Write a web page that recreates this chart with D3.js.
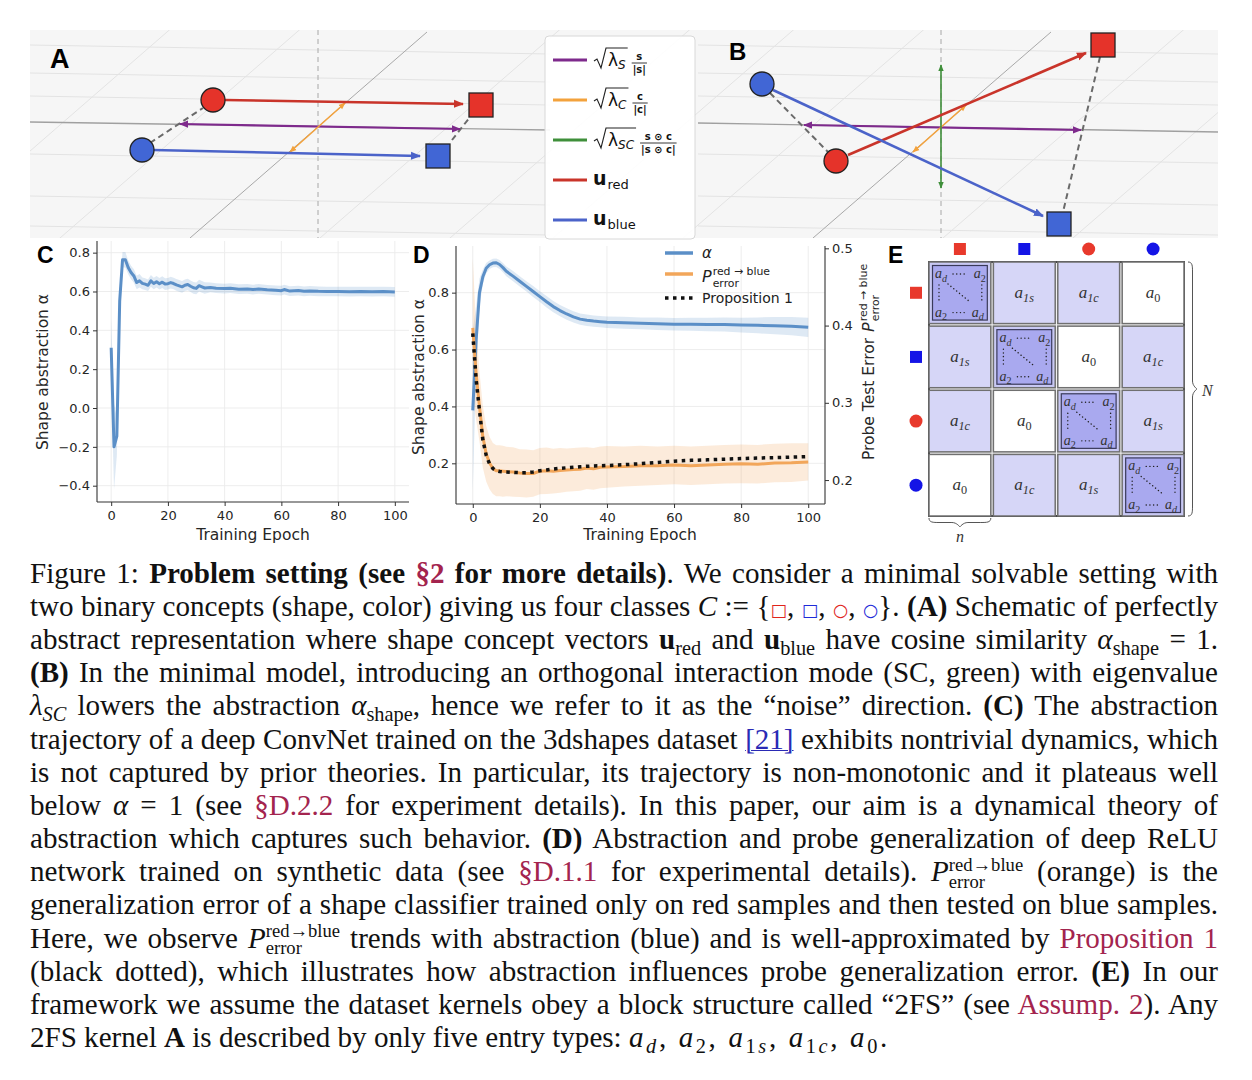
<!DOCTYPE html>
<html>
<head>
<meta charset="utf-8">
<script src="https://cdn.jsdelivr.net/npm/d3@7"></script>
<style>
  body { margin: 0; background: #fff; overflow: hidden; }
  #fig { position: absolute; left: 0; top: 0; }
  #caption { position: absolute; left: 30px; top: 557px; width: 1188px;
    font-family: "Liberation Serif", "Times New Roman", serif; font-size: 26.5px; color: #111; }
  #caption .line { height: 33.2px; line-height: 33.2px; white-space: nowrap;
    text-align: justify; text-align-last: justify; }
  #caption .line.last { text-align: left; text-align-last: left; }
  #caption sub { font-size: 0.7em; vertical-align: -0.28em; line-height: 0; }
  #caption .ref { color: #a3244e; }
  #caption .cite { color: #2a2ab5; text-decoration: underline; text-decoration-thickness: 1px; }
  #caption .st { display: inline-block; vertical-align: -0.36em; line-height: 0.92; font-size: 0.64em; text-align: left; }
  #caption .st span { display: block; }
  #caption .sym { font-family: "DejaVu Sans"; font-size: 0.6em; }
  #caption .m { letter-spacing: 0.09em; }
  #caption .r { color: #e0241b; }
  #caption .bl { color: #1f2bd8; }
  #measure { position: absolute; left: -5000px; top: 0; white-space: nowrap;
    font-family: "Liberation Serif", "Times New Roman", serif; font-size: 26.5px; }
</style>
</head>
<body>
<svg id="fig" width="1252" height="1080"></svg>
<div id="caption"></div>
<span id="measure"></span>
<script>
// ---------- data ----------

// panel C : ConvNet on 3dshapes
const cEpochs = [0,1,2,3,4,5,6,7,8,9,10,11,12,13,14,15,16,17,18,19,20,21,22,23,24,25,26,27,28,29,30,31,32,33,
  35,37,40,42,45,48,50,52,55,58,60,61,63,66,68,70,73,76,80,84,88,92,96,100]
const cAlpha = [0.31,-0.20,-0.145,0.55,0.763,0.763,0.724,0.698,0.68,0.646,0.655,0.642,0.638,0.632,0.655,0.641,0.65,0.64,0.648,0.638,
  0.64,0.646,0.641,0.634,0.629,0.624,0.632,0.636,0.627,0.619,0.616,0.63,0.624,0.618,
  0.621,0.617,0.615,0.617,0.612,0.613,0.61,0.613,0.609,0.606,0.604,0.61,0.602,0.605,0.601,0.603,0.601,0.6,0.6,0.599,0.6,0.599,0.6,0.598]
const cAlphaSd = [0.15,0.22,0.1,0.06,0.04,0.04,0.035,0.035,0.035,0.035,0.035,0.03,0.03,0.03,0.03,0.03,0.03,0.03,0.03,0.03,
  0.03,0.03,0.03,0.03,0.03,0.03,0.03,0.03,0.03,0.03,0.03,0.03,0.03,0.03,
  0.025,0.025,0.025,0.025,0.025,0.025,0.025,0.025,0.025,0.025,0.025,0.025,0.025,0.025,0.025,0.025,0.025,0.025,0.025,0.025,0.025,0.025,0.025,0.025]

// panel D : ReLU net on synthetic data
const dEpochs = [0,1,2,3,4,5,6,7,8,9,10,12,14,16,18,20,22,24,26,28,30,32,34,36,38,40,45,50,55,60,65,70,75,80,85,90,95,100]
const dAlpha = [0.386,0.633,0.80,0.856,0.886,0.898,0.904,0.905,0.899,0.888,0.875,0.858,0.84,0.822,0.804,0.786,0.768,0.751,0.737,0.725,
  0.715,0.707,0.703,0.700,0.698,0.696,0.694,0.692,0.691,0.689,0.689,0.688,0.688,0.686,0.685,0.684,0.682,0.678]
const dAlphaSd = [0.28,0.12,0.05,0.025,0.018,0.015,0.015,0.015,0.016,0.016,0.017,0.018,0.018,0.018,0.019,0.019,0.02,0.02,0.02,0.02,
  0.02,0.02,0.02,0.02,0.02,0.02,0.021,0.021,0.022,0.022,0.023,0.024,0.025,0.026,0.028,0.03,0.032,0.034]
const dPerr = [0.397,0.338,0.295,0.256,0.234,0.222,0.215,0.212,0.212,0.2115,0.211,0.2105,0.209,0.2085,0.2085,0.2115,0.212,0.2115,0.2125,0.213,
  0.2135,0.214,0.2155,0.2145,0.2165,0.217,0.2175,0.2185,0.2185,0.2195,0.2185,0.2195,0.2205,0.221,0.2205,0.222,0.2225,0.2235]
const dPerrSd = [0.09,0.06,0.045,0.04,0.036,0.034,0.033,0.033,0.033,0.033,0.032,0.032,0.031,0.031,0.03,0.03,0.03,0.029,0.029,0.028,
  0.028,0.028,0.027,0.027,0.027,0.027,0.026,0.026,0.025,0.025,0.025,0.025,0.025,0.025,0.025,0.025,0.025,0.024]
const dProp = [0.39,0.33,0.29,0.252,0.232,0.221,0.215,0.212,0.211,0.2105,0.2105,0.21,0.2095,0.2095,0.2105,0.212,0.213,0.2143,0.2152,0.2159,
  0.2165,0.2172,0.2178,0.2183,0.2186,0.2188,0.2198,0.2212,0.2228,0.2245,0.2255,0.2262,0.227,0.2278,0.2285,0.229,0.2296,0.2303]

const epochTicks = [0, 20, 40, 60, 80, 100]
const cTicks = [-0.4, -0.2, 0, 0.2, 0.4, 0.6, 0.8]
const dLeftTicks = [0.2, 0.4, 0.6, 0.8]
const dRightTicks = [0.2, 0.3, 0.4, 0.5]

// panels A / B : schematic, in pane units (520 x 208)
const aMarkers = [
  {shape: 'circle', cls: 'red', x: 183, y: 70}, {shape: 'square', cls: 'red', x: 451, y: 75},
  {shape: 'circle', cls: 'blue', x: 112, y: 120}, {shape: 'square', cls: 'blue', x: 408, y: 126}]
const aVectors = [
  {key: 'S', x1: 150, y1: 94, x2: 430, y2: 99, both: true},
  {key: 'C', x1: 260, y1: 122, x2: 315, y2: 73, both: true},
  {key: 'red', x1: 195, y1: 70, x2: 433, y2: 74},
  {key: 'blue', x1: 123, y1: 120, x2: 390, y2: 126}]
const aLinks = [[120, 113, 173, 78], [422, 110, 440, 87]]
const aGuides = {axis: [0, 92, 520, 100], diag: [160, 208, 397, 2], vert: 288}

const bMarkers = [
  {shape: 'circle', cls: 'blue', x: 64, y: 54}, {shape: 'circle', cls: 'red', x: 138, y: 131},
  {shape: 'square', cls: 'red', x: 405, y: 15}, {shape: 'square', cls: 'blue', x: 361, y: 194}]
const bVectors = [
  {key: 'S', x1: 106, y1: 95, x2: 383, y2: 100, both: true},
  {key: 'C', x1: 215, y1: 122, x2: 268, y2: 75, both: true},
  {key: 'SC', x1: 243, y1: 35, x2: 243, y2: 158, both: true},
  {key: 'red', x1: 150, y1: 125, x2: 388, y2: 23},
  {key: 'blue', x1: 75, y1: 60, x2: 345, y2: 186}]
const bLinks = [[72, 63, 130, 122], [402, 27, 365, 182]]
const bGuides = {axis: [0, 93, 520, 102], diag: [115, 208, 353, 2], vert: 243}

const paneFaintH = [15, 43, 66, 124, 166, 196]
const paneFaintD = [-260, -130, 130, 260]

const vecColor = {S: '#7e2a8c', C: '#f3a23c', SC: '#3f8f3a', red: '#c9342a', blue: '#4b63c9'}
const markColor = {red: '#e5332a', blue: '#4166d5'}
const vecLegend = [
  {key: 'S', num: 's', den: '|s|'}, {key: 'C', num: 'c', den: '|c|'},
  {key: 'SC', num: 's ⊙ c', den: '|s ⊙ c|'}, {key: 'red'}, {key: 'blue'}]

// panel E : 2FS kernel
const eClasses = [
  {shape: 'square', color: '#e8392c'}, {shape: 'square', color: '#1414e6'},
  {shape: 'circle', color: '#e8392c'}, {shape: 'circle', color: '#1414e6'}]
const eBlocks = [
  ['d', '1s', '1c', '0'],
  ['1s', 'd', '0', '1c'],
  ['1c', '0', 'd', '1s'],
  ['0', '1c', '1s', 'd']]

// ---------- drawing ----------
const svg = d3.select('#fig')
const defs = svg.append('defs')
const SANS = 'DejaVu Sans'
const TXT = '#262626'

Object.entries(vecColor).forEach(([k, c]) => {
  const s = (k === 'red' || k === 'blue') ? 10 : (k === 'S' ? 9 : 7)
  defs.append('marker').attr('id', 'ar-' + k)
    .attr('viewBox', '0 0 10 10').attr('refX', 9).attr('refY', 5)
    .attr('markerWidth', s).attr('markerHeight', s).attr('markerUnits', 'userSpaceOnUse')
    .attr('orient', 'auto-start-reverse')
    .append('path').attr('d', 'M0,1 L10,5 L0,9 Z').attr('fill', c)
})
defs.append('clipPath').attr('id', 'paneClip')
  .append('rect').attr('x', 30).attr('y', 30).attr('width', 1188).attr('height', 208)

svg.append('rect').attr('x', 30).attr('y', 30).attr('width', 1188).attr('height', 208).attr('fill', '#f6f6f6')

function drawPane(x0, markers, vectors, links, guides) {
  const sx = d3.scaleLinear().domain([0, 520]).range([x0, x0 + 520])
  const sy = d3.scaleLinear().domain([0, 208]).range([30, 238])
  const g = svg.append('g').attr('clip-path', 'url(#paneClip)')

  // faint pane grid
  g.selectAll(null).data(paneFaintH).join('line')
    .attr('x1', sx(0)).attr('y1', d => sy(d)).attr('x2', sx(520)).attr('y2', d => sy(d + 9))
    .attr('stroke', '#e3e3e3').attr('stroke-width', 1)
  const [dx1, dy1, dx2, dy2] = guides.diag
  g.selectAll(null).data(paneFaintD).join('line')
    .attr('x1', d => sx(dx1 + d - (dx2 - dx1))).attr('y1', sy(dy1 + (dy1 - dy2)))
    .attr('x2', d => sx(dx2 + d + (dx2 - dx1))).attr('y2', sy(dy2 - (dy1 - dy2)))
    .attr('stroke', '#e3e3e3').attr('stroke-width', 1)

  // main guides
  g.append('line').attr('x1', sx(guides.axis[0])).attr('y1', sy(guides.axis[1]))
    .attr('x2', sx(guides.axis[2])).attr('y2', sy(guides.axis[3]))
    .attr('stroke', '#a0a0a0').attr('stroke-width', 1.3)
  g.append('line').attr('x1', sx(dx1)).attr('y1', sy(dy1)).attr('x2', sx(dx2)).attr('y2', sy(dy2))
    .attr('stroke', '#a8a8a8').attr('stroke-width', 1)
  g.append('line').attr('x1', sx(guides.vert)).attr('y1', sy(0)).attr('x2', sx(guides.vert)).attr('y2', sy(208))
    .attr('stroke', '#b5b5b5').attr('stroke-width', 1.2).attr('stroke-dasharray', '5,4')

  g.selectAll(null).data(links).join('line')
    .attr('x1', d => sx(d[0])).attr('y1', d => sy(d[1])).attr('x2', d => sx(d[2])).attr('y2', d => sy(d[3]))
    .attr('stroke', '#6a6a6a').attr('stroke-width', 2).attr('stroke-dasharray', '6,4')

  g.selectAll(null).data(vectors).join('line')
    .attr('x1', d => sx(d.x1)).attr('y1', d => sy(d.y1)).attr('x2', d => sx(d.x2)).attr('y2', d => sy(d.y2))
    .attr('stroke', d => vecColor[d.key])
    .attr('stroke-width', d => (d.key === 'red' || d.key === 'blue') ? 2.6 : (d.key === 'S' ? 2.2 : 1.6))
    .attr('marker-end', d => `url(#ar-${d.key})`)
    .attr('marker-start', d => d.both ? `url(#ar-${d.key})` : null)

  g.selectAll(null).data(markers.filter(m => m.shape === 'circle')).join('circle')
    .attr('cx', d => sx(d.x)).attr('cy', d => sy(d.y)).attr('r', 12)
    .attr('fill', d => markColor[d.cls]).attr('stroke', '#222').attr('stroke-width', 1.3)
  g.selectAll(null).data(markers.filter(m => m.shape === 'square')).join('rect')
    .attr('x', d => sx(d.x) - 12).attr('y', d => sy(d.y) - 12).attr('width', 24).attr('height', 24)
    .attr('fill', d => markColor[d.cls]).attr('stroke', '#222').attr('stroke-width', 1.3)
}
drawPane(30, aMarkers, aVectors, aLinks, aGuides)
drawPane(698, bMarkers, bVectors, bLinks, bGuides)

function panelLabel(t, x, y, size) {
  svg.append('text').attr('x', x).attr('y', y).text(t)
    .style('font-family', 'Liberation Sans').style('font-weight', 'bold').style('font-size', size + 'px').attr('fill', '#000')
}
panelLabel('A', 50, 68, 27)
panelLabel('B', 729, 60, 24)

// vector legend
const lg = svg.append('g').style('font-family', SANS).attr('fill', '#111')
lg.append('rect').attr('x', 545).attr('y', 36).attr('width', 150).attr('height', 203).attr('rx', 4)
  .attr('fill', '#fff').attr('fill-opacity', 0.92).attr('stroke', '#d8d8d8')
const legY = d3.scalePoint().domain(vecLegend.map(d => d.key)).range([60, 220])
vecLegend.forEach(d => {
  const y = legY(d.key)
  lg.append('line').attr('x1', 553).attr('x2', 587).attr('y1', y).attr('y2', y)
    .attr('stroke', vecColor[d.key]).attr('stroke-width', 3)
  if (d.num) {
    const lam = lg.append('text').attr('x', 608).attr('y', y + 6).style('font-size', '17px')
    lam.append('tspan').text('λ')
    lam.append('tspan').attr('dy', 3).style('font-size', '12px').style('font-style', 'italic').text(d.key)
    const endX = 608 + lam.node().getComputedTextLength() + 2
    lg.append('path').attr('d', `M594,${y + 1} L597,${y - 1} L601,${y + 8} L606,${y - 12} L${endX},${y - 12}`)
      .attr('fill', 'none').attr('stroke', '#222').attr('stroke-width', 1.1)
    const num = lg.append('text').attr('y', y).style('font-size', '10px').style('font-weight', 'bold').text(d.num)
    const den = lg.append('text').attr('y', y + 12.5).style('font-size', '10px').style('font-weight', 'bold').text(d.den)
    const w = Math.max(num.node().getComputedTextLength(), den.node().getComputedTextLength())
    const fx = endX + 5 + w / 2
    num.attr('x', fx).attr('text-anchor', 'middle')
    den.attr('x', fx).attr('text-anchor', 'middle')
    lg.append('line').attr('x1', fx - w / 2 - 1).attr('x2', fx + w / 2 + 1).attr('y1', y + 3).attr('y2', y + 3)
      .attr('stroke', '#222').attr('stroke-width', 0.9)
  } else {
    const t = lg.append('text').attr('x', 593).attr('y', y + 5)
    t.append('tspan').style('font-weight', 'bold').style('font-size', '19px').text('u')
    t.append('tspan').attr('dx', 1).attr('dy', 4).style('font-size', '13px').text(d.key)
  }
})

// ---------- helpers for the line charts ----------
function grid(g, x, y, xt, yt) {
  const [yb, yt0] = y.range(), [xl, xr] = x.range()
  g.selectAll(null).data(xt).join('line')
    .attr('x1', d => x(d)).attr('x2', d => x(d)).attr('y1', yb).attr('y2', yt0)
    .attr('stroke', '#ebebeb').attr('stroke-width', 0.9)
  g.selectAll(null).data(yt).join('line')
    .attr('y1', d => y(d)).attr('y2', d => y(d)).attr('x1', xl).attr('x2', xr)
    .attr('stroke', '#ebebeb').attr('stroke-width', 0.9)
}
function styleAxis(a) {
  a.select('.domain').remove()
  a.selectAll('.tick line').attr('stroke', '#333').attr('stroke-width', 1)
  a.selectAll('.tick text').attr('fill', TXT).style('font-family', SANS).style('font-size', '13px')
}
function spine(g, x1, y1, x2, y2) {
  g.append('line').attr('x1', x1).attr('y1', y1).attr('x2', x2).attr('y2', y2)
    .attr('stroke', '#333').attr('stroke-width', 1.1)
}
function axisText(g, t, x, y, rot) {
  return g.append('text').attr('transform', `translate(${x},${y})` + (rot ? ' rotate(-90)' : ''))
    .attr('text-anchor', 'middle').style('font-family', SANS).style('font-size', '15.5px').attr('fill', TXT).text(t)
}
function pScript(g, x, y, size) {
  const p = g.append('text').attr('x', x).attr('y', y).style('font-style', 'italic').style('font-size', size + 'px').text('P')
  const pw = p.node().getComputedTextLength()
  const s = size * 0.68
  const sup = g.append('text').attr('x', x + pw + 1).attr('y', y - size * 0.45).style('font-size', s + 'px').text('red → blue')
  const sub = g.append('text').attr('x', x + pw + 1).attr('y', y + size * 0.3).style('font-size', s + 'px').text('error')
  return pw + 1 + Math.max(sup.node().getComputedTextLength(), sub.node().getComputedTextLength())
}
const fmt1 = d3.format('.1f')
const BLUE = '#5b8fc7', ORANGE = '#f2a65a'

// ---------- panel C ----------
const cX = d3.scaleLinear().domain([-5, 105]).range([97, 409])
const cY = d3.scaleLinear().domain([-0.484, 0.86]).range([502, 241])
const gC = svg.append('g')
grid(gC, cX, cY, epochTicks, cTicks)
const cRows = cEpochs.map((e, i) => ({e, v: cAlpha[i], s: cAlphaSd[i]}))
gC.append('path').datum(cRows)
  .attr('d', d3.area().x(d => cX(d.e)).y0(d => cY(d.v - d.s)).y1(d => cY(d.v + d.s)))
  .attr('fill', BLUE).attr('fill-opacity', 0.2)
gC.append('path').datum(cRows)
  .attr('d', d3.line().x(d => cX(d.e)).y(d => cY(d.v)))
  .attr('fill', 'none').attr('stroke', BLUE).attr('stroke-width', 3).attr('stroke-linejoin', 'round')
gC.append('g').attr('transform', 'translate(0,502)')
  .call(d3.axisBottom(cX).tickValues(epochTicks).tickSize(4).tickPadding(5)).call(styleAxis)
gC.append('g').attr('transform', 'translate(97,0)')
  .call(d3.axisLeft(cY).tickValues(cTicks).tickFormat(fmt1).tickSize(4).tickPadding(3)).call(styleAxis)
spine(gC, 97, 241, 97, 502)
spine(gC, 97, 502, 409, 502)
axisText(gC, 'Training Epoch', 253, 540)
axisText(gC, 'Shape abstraction α', 48, 372, true)
panelLabel('C', 37, 263, 23)

// ---------- panel D ----------
const dX = d3.scaleLinear().domain([-5, 105]).range([456, 825])
const dYL = d3.scaleLinear().domain([0.057, 0.964]).range([504, 246])
const dYR = d3.scaleLinear().domain([0.169, 0.503]).range([504, 246])
const gD = svg.append('g')
grid(gD, dX, dYL, epochTicks, dLeftTicks)
const dRows = dEpochs.map((e, i) => ({e, a: dAlpha[i], as: dAlphaSd[i], p: dPerr[i], ps: dPerrSd[i], q: dProp[i]}))
gD.append('path').datum(dRows)
  .attr('d', d3.area().x(d => dX(d.e)).y0(d => dYL(d.a - d.as)).y1(d => dYL(d.a + d.as)))
  .attr('fill', BLUE).attr('fill-opacity', 0.2)
gD.append('path').datum(dRows)
  .attr('d', d3.area().x(d => dX(d.e)).y0(d => dYR(d.p - d.ps)).y1(d => dYR(d.p + d.ps)))
  .attr('fill', ORANGE).attr('fill-opacity', 0.22)
gD.append('path').datum(dRows)
  .attr('d', d3.line().x(d => dX(d.e)).y(d => dYL(d.a)))
  .attr('fill', 'none').attr('stroke', BLUE).attr('stroke-width', 3).attr('stroke-linejoin', 'round')
gD.append('path').datum(dRows)
  .attr('d', d3.line().x(d => dX(d.e)).y(d => dYR(d.p)))
  .attr('fill', 'none').attr('stroke', ORANGE).attr('stroke-width', 3).attr('stroke-linejoin', 'round')
gD.append('path').datum(dRows)
  .attr('d', d3.line().x(d => dX(d.e)).y(d => dYR(d.q)))
  .attr('fill', 'none').attr('stroke', '#111').attr('stroke-width', 3.5).attr('stroke-dasharray', '3.5,4.5')
gD.append('g').attr('transform', 'translate(0,504)')
  .call(d3.axisBottom(dX).tickValues(epochTicks).tickSize(4).tickPadding(5)).call(styleAxis)
gD.append('g').attr('transform', 'translate(456,0)')
  .call(d3.axisLeft(dYL).tickValues(dLeftTicks).tickFormat(fmt1).tickSize(4).tickPadding(3)).call(styleAxis)
gD.append('g').attr('transform', 'translate(825,0)')
  .call(d3.axisRight(dYR).tickValues(dRightTicks).tickFormat(fmt1).tickSize(4).tickPadding(3)).call(styleAxis)
spine(gD, 456, 246, 456, 504)
spine(gD, 825, 246, 825, 504)
spine(gD, 456, 504, 825, 504)
axisText(gD, 'Training Epoch', 640, 540)
axisText(gD, 'Shape abstraction α', 424, 377, true)
panelLabel('D', 413, 263, 23)

// right label: Probe Test Error + P
const rl = gD.append('g').attr('transform', 'translate(874,362) rotate(-90)')
  .style('font-family', SANS).attr('fill', TXT)
const rlMain = rl.append('text').attr('x', 0).attr('y', 0).style('font-size', '15.5px').text('Probe Test Error')
const wMain = rlMain.node().getComputedTextLength()
const rlP = rl.append('g')
const wP = pScript(rlP, 0, 0, 16)
const x0r = -(wMain + 6 + wP) / 2
rlMain.attr('x', x0r)
rlP.attr('transform', `translate(${x0r + wMain + 6},0)`)

// legend D
const ld = gD.append('g').style('font-family', SANS).attr('fill', '#222')
ld.append('line').attr('x1', 665).attr('x2', 693).attr('y1', 253).attr('y2', 253).attr('stroke', BLUE).attr('stroke-width', 3.5)
ld.append('text').attr('x', 702).attr('y', 258).style('font-style', 'italic').style('font-size', '15px').text('α')
ld.append('line').attr('x1', 665).attr('x2', 693).attr('y1', 274).attr('y2', 274).attr('stroke', ORANGE).attr('stroke-width', 3.5)
pScript(ld, 702, 282, 16)
ld.append('line').attr('x1', 665).attr('x2', 693).attr('y1', 298).attr('y2', 298)
  .attr('stroke', '#111').attr('stroke-width', 3.5).attr('stroke-dasharray', '3.5,4.5')
ld.append('text').attr('x', 702).attr('y', 303).style('font-size', '14px').text('Proposition 1')

// ---------- panel E ----------
const gE = svg.append('g')
const eX = d3.scaleBand().domain(d3.range(4)).range([929, 1184]).paddingInner(0.04)
const eY = d3.scaleBand().domain(d3.range(4)).range([262, 516]).paddingInner(0.04)
const eFill = {d: '#c9c9f4', '1s': '#d6d6f7', '1c': '#d6d6f7', '0': '#ffffff'}
gE.append('rect').attr('x', 929).attr('y', 262).attr('width', 255).attr('height', 254)
  .attr('fill', '#f0f0f0').attr('stroke', '#444').attr('stroke-width', 2)
const SERIF = 'Liberation Serif'
function aText(g, x, y, sub, size, anchor) {
  const t = g.append('text').attr('x', x).attr('y', y).attr('text-anchor', anchor || 'middle')
    .style('font-family', SERIF).style('font-size', size + 'px').attr('fill', '#333')
  t.append('tspan').style('font-style', 'italic').text('a')
  t.append('tspan').attr('dy', size * 0.25).style('font-size', (size * 0.72) + 'px')
    .style('font-style', /^\d$/.test(sub) ? 'normal' : 'italic').text(sub)
  return t
}
eBlocks.forEach((row, r) => row.forEach((k, c) => {
  const x = eX(c), y = eY(r), w = eX.bandwidth(), h = eY.bandwidth()
  gE.append('rect').attr('x', x).attr('y', y).attr('width', w).attr('height', h)
    .attr('fill', eFill[k]).attr('stroke', '#707070').attr('stroke-width', 1.5)
  if (k === 'd') {
    gE.append('rect').attr('x', x + 3.5).attr('y', y + 3.5).attr('width', w - 7).attr('height', h - 7)
      .attr('fill', '#a9a9ef').attr('stroke', '#3a3a5a').attr('stroke-width', 1.2)
    aText(gE, x + 6, y + 16, 'd', 14, 'start')
    aText(gE, x + w - 17, y + 16, '2', 14, 'start')
    aText(gE, x + 6, y + h - 7, '2', 14, 'start')
    aText(gE, x + w - 19, y + h - 7, 'd', 14, 'start')
    const dot = (x1, y1, x2, y2) => gE.append('line').attr('x1', x1).attr('y1', y1).attr('x2', x2).attr('y2', y2)
      .attr('stroke', '#222').attr('stroke-width', 1.4).attr('stroke-linecap', 'round').attr('stroke-dasharray', '0.1,3.6')
    dot(x + 24, y + 12, x + 38, y + 12)
    dot(x + 24, y + h - 11, x + 36, y + h - 11)
    dot(x + 10, y + 23, x + 10, y + h - 21)
    dot(x + w - 9, y + 23, x + w - 9, y + h - 21)
    dot(x + 19, y + 22, x + w - 20, y + h - 21)
  } else {
    aText(gE, x + w / 2, y + h / 2 + 5, k, 17)
  }
}))
// class markers
eClasses.forEach((cl, i) => {
  const cx = eX(i) + eX.bandwidth() / 2, cy = eY(i) + eY.bandwidth() / 2
  ;[[cx, 249], [916, cy]].forEach(([px, py]) => {
    if (cl.shape === 'square') {
      gE.append('rect').attr('x', px - 6).attr('y', py - 6).attr('width', 12).attr('height', 12).attr('fill', cl.color)
    } else {
      gE.append('circle').attr('cx', px).attr('cy', py).attr('r', 6.5).attr('fill', cl.color)
    }
  })
})
// braces
function braceV(x, y0, y1, w) {
  const ym = (y0 + y1) / 2, h = w / 2
  return `M${x},${y0} C${x + h},${y0} ${x + h},${y0 + 4} ${x + h},${y0 + 10} L${x + h},${ym - 8} ` +
    `C${x + h},${ym - 3} ${x + w},${ym} ${x + w},${ym} C${x + w},${ym} ${x + h},${ym + 3} ${x + h},${ym + 8} ` +
    `L${x + h},${y1 - 10} C${x + h},${y1 - 4} ${x + h},${y1} ${x},${y1}`
}
function braceH(x0, x1, y, w) {
  const xm = (x0 + x1) / 2, h = w / 2
  return `M${x0},${y} C${x0},${y + h} ${x0 + 4},${y + h} ${x0 + 10},${y + h} L${xm - 8},${y + h} ` +
    `C${xm - 3},${y + h} ${xm},${y + w} ${xm},${y + w} C${xm},${y + w} ${xm + 3},${y + h} ${xm + 8},${y + h} ` +
    `L${x1 - 10},${y + h} C${x1 - 4},${y + h} ${x1},${y + h} ${x1},${y}`
}
gE.append('path').attr('d', braceV(1188, 262, 516, 9)).attr('fill', 'none').attr('stroke', '#555').attr('stroke-width', 1)
gE.append('path').attr('d', braceH(eX(0), eX(0) + eX.bandwidth(), 518, 9)).attr('fill', 'none').attr('stroke', '#555').attr('stroke-width', 1)
gE.append('text').attr('x', 1202).attr('y', 396).style('font-family', SERIF).style('font-style', 'italic')
  .style('font-size', '16px').attr('fill', '#333').text('N')
gE.append('text').attr('x', eX(0) + eX.bandwidth() / 2).attr('y', 542).attr('text-anchor', 'middle')
  .style('font-family', SERIF).style('font-style', 'italic').style('font-size', '16px').attr('fill', '#333').text('n')
panelLabel('E', 888, 263, 23)

// ---------- caption ----------
const P = '<i>P</i><span class="st"><span>red→blue</span><span>error</span></span>'
const captionLines = [
  'Figure 1: <b>Problem setting (see <span class="ref">§2</span> for more details)</b>. We consider a minimal solvable setting with',
  'two binary concepts (shape, color) giving us four classes <i>C</i> := {<span class="sym r">□</span>, <span class="sym bl">□</span>, <span class="sym r">○</span>, <span class="sym bl">○</span>}. <b>(A)</b> Schematic of perfectly',
  'abstract representation where shape concept vectors <b>u</b><sub>red</sub> and <b>u</b><sub>blue</sub> have cosine similarity <i>α</i><sub>shape</sub> = 1.',
  '<b>(B)</b> In the minimal model, introducing an orthogonal interaction mode (SC, green) with eigenvalue',
  '<i>λ<sub>SC</sub></i> lowers the abstraction <i>α</i><sub>shape</sub>, hence we refer to it as the “noise” direction. <b>(C)</b> The abstraction',
  'trajectory of a deep ConvNet trained on the 3dshapes dataset <span class="cite">[21]</span> exhibits nontrivial dynamics, which',
  'is not captured by prior theories. In particular, its trajectory is non-monotonic and it plateaus well',
  'below <i>α</i> = 1 (see <span class="ref">§D.2.2</span> for experiment details). In this paper, our aim is a dynamical theory of',
  'abstraction which captures such behavior. <b>(D)</b> Abstraction and probe generalization of deep ReLU',
  'network trained on synthetic data (see <span class="ref">§D.1.1</span> for experimental details). ' + P + ' (orange) is the',
  'generalization error of a shape classifier trained only on red samples and then tested on blue samples.',
  'Here, we observe ' + P + ' trends with abstraction (blue) and is well-approximated by <span class="ref">Proposition 1</span>',
  '(black dotted), which illustrates how abstraction influences probe generalization error. <b>(E)</b> In our',
  'framework we assume the dataset kernels obey a block structure called “2FS” (see <span class="ref">Assump. 2</span>). Any',
  '2FS kernel <b>A</b> is described by only five entry types: <span class="m"><i>a</i><sub><i>d</i></sub>, <i>a</i><sub>2</sub>, <i>a</i><sub>1<i>s</i></sub>, <i>a</i><sub>1<i>c</i></sub>, <i>a</i><sub>0</sub>.</span>'
]
// size the serif so the plainest full line (line 11) fills the column naturally
const meas = d3.select('#measure').html(captionLines[10])
const natW = meas.node().getBoundingClientRect().width
const capSize = Math.min(31, 26.5 * 1178 / natW)
meas.remove()
const lineH = 33.2
const capTop = 583 - ((lineH - 1.107 * capSize) / 2 + 0.891 * capSize)
d3.select('#caption').style('font-size', capSize + 'px').style('top', capTop + 'px')
  .selectAll('div').data(captionLines).join('div')
  .attr('class', (d, i) => i === captionLines.length - 1 ? 'line last' : 'line')
  .html(d => d)
</script>
</body>
</html>
